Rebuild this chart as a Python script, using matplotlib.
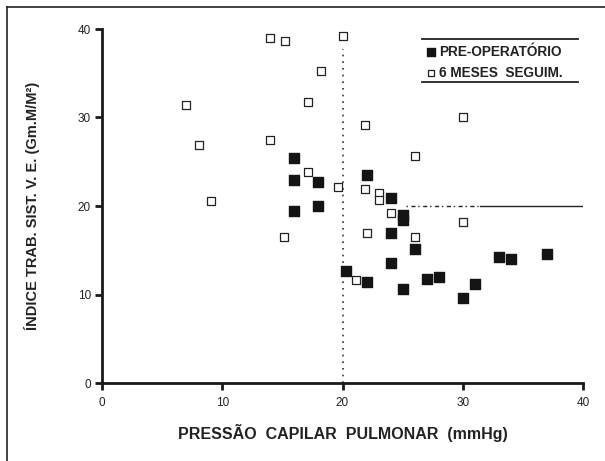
import matplotlib
matplotlib.use("Agg")
import matplotlib.pyplot as plt
from matplotlib.lines import Line2D

plt.rcParams['font.family'] = ['Liberation Sans', 'DejaVu Sans']

# pre-operative (filled squares)
pre_x = [16, 16, 18, 18, 16, 20.3, 22, 24, 25, 25, 24, 26, 24, 22, 25, 27, 28, 30, 31, 33, 34, 37]
pre_y = [25.4, 22.9, 22.7, 20.0, 19.4, 12.7, 23.5, 20.9, 19.0, 18.4, 16.9, 15.1, 13.6, 11.4,
         10.6, 11.7, 12.0, 9.6, 11.2, 14.2, 14.0, 14.6]

# 6 months follow-up (open squares)
seg_x = [14, 15.2, 20, 18.2, 17.1, 7, 14, 8.1, 17.1, 19.6, 9.1, 15.1, 21.9, 26, 21.9, 23, 23,
         24, 30, 22, 26, 21.1, 30]
seg_y = [39.0, 38.7, 39.2, 35.2, 31.7, 31.4, 27.5, 26.9, 23.8, 22.2, 20.6, 16.5, 29.2, 25.6,
         21.9, 21.5, 20.7, 19.2, 18.2, 17.0, 16.5, 11.6, 30.0]

ticks = [0, 10, 20, 30, 40]
vline_x = 20
vline_top = 37.7
hline_y = 20
hline_dash = (25.3, 31.3)
hline_solid = (31.4, 40)

fig = plt.figure(figsize=(6.05, 4.61), dpi=100)
ax = fig.add_axes([102 / 605, 78 / 461, 481 / 605, 354 / 461])

ax.plot([vline_x, vline_x], [0, vline_top], color='#333333', lw=1.2, ls=(0, (1, 3)))
ax.plot(hline_dash, [hline_y, hline_y], color='#222222', lw=1.0, ls=(0, (1, 2.5, 3, 2)))
ax.plot(hline_solid, [hline_y, hline_y], color='#222222', lw=1.0)

ax.scatter(seg_x, seg_y, marker='s', s=34, facecolor='white', edgecolor='#222222',
           linewidths=0.9, zorder=3)
ax.scatter(pre_x, pre_y, marker='s', s=52, color='#141414', zorder=4)

ax.set_xlim(0, 40)
ax.set_ylim(0, 40)
ax.set_xticks(ticks)
ax.set_yticks(ticks)
for side in ['top', 'right']:
    ax.spines[side].set_visible(False)
for side in ['left', 'bottom']:
    ax.spines[side].set_linewidth(2)
    ax.spines[side].set_color('#1a1a1a')
ax.tick_params(direction='out', length=5, width=2, color='#1a1a1a', labelsize=8.5,
               labelcolor='#222222', pad=3)
ax.tick_params(axis='x', pad=5)

ax.set_xlabel('PRESSÃO  CAPILAR  PULMONAR  (mmHg)', fontsize=11.5, fontweight='bold',
              color='#222222', labelpad=11)
ax.set_ylabel('ÍNDICE TRAB. SIST. V. E. (Gm.M/M²)', fontsize=10.5, fontweight='bold',
              color='#222222', labelpad=27)

# legend drawn as in the original: only top and bottom rules
tr = ax.transAxes
ax.add_line(Line2D([0.665, 0.99], [0.973, 0.973], transform=tr, color='#222222', lw=1.3))
ax.add_line(Line2D([0.665, 0.99], [0.85, 0.85], transform=tr, color='#222222', lw=1.3))
ax.scatter([0.685], [0.936], marker='s', s=30, color='#141414', transform=tr, clip_on=False)
ax.scatter([0.685], [0.876], marker='s', s=24, facecolor='white', edgecolor='#222222',
           linewidths=0.9, transform=tr, clip_on=False)
ax.text(0.7, 0.936, 'PRE-OPERATÓRIO', transform=tr, fontsize=9.8, fontweight='bold',
        color='#222222', va='center', ha='left')
ax.text(0.7, 0.876, '6 MESES  SEGUIM.', transform=tr, fontsize=9.8, fontweight='bold',
        color='#222222', va='center', ha='left')

# scanned page border (left and top only)
fig.add_artist(Line2D([7 / 605, 7 / 605], [0, 1 - 7 / 461], color='#222222', lw=1.2))
fig.add_artist(Line2D([7 / 605, 1], [1 - 7 / 461, 1 - 7 / 461], color='#222222', lw=1.2))

fig.savefig('out.png', dpi=100)
